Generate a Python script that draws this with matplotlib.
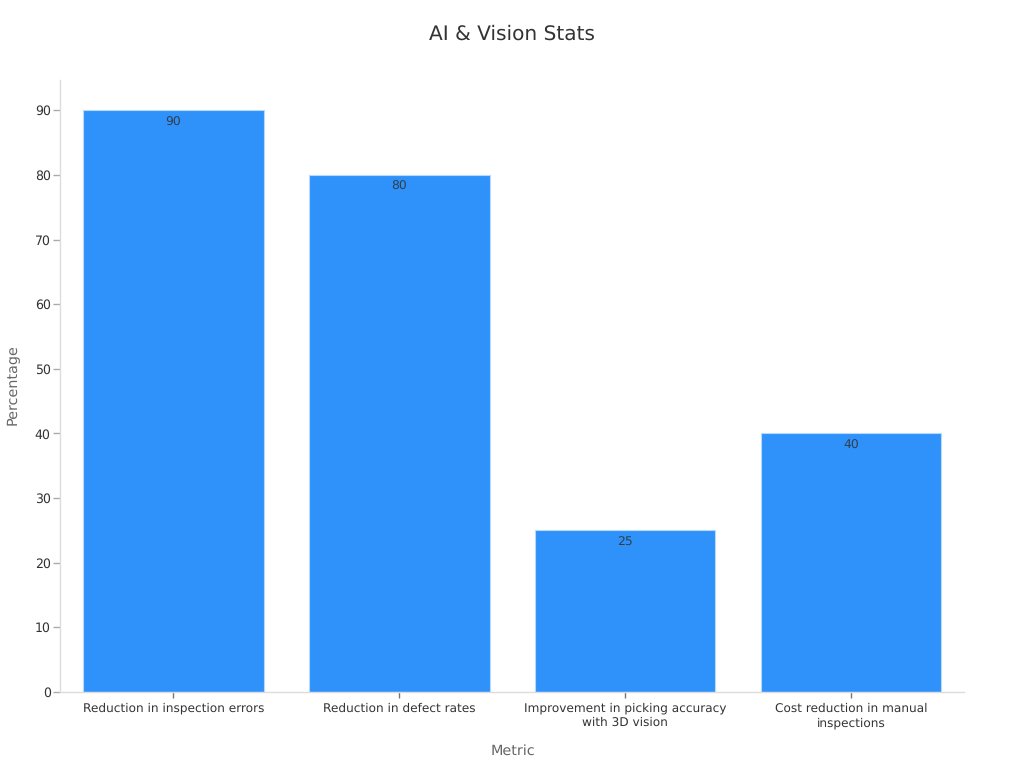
import matplotlib.pyplot as plt

categories = ['Reduction in inspection errors', 'Reduction in defect rates',
              'Improvement in picking accuracy\nwith 3D vision', 'Cost reduction in manual\ninspections']
values = [90, 80, 25, 40]
y_ticks = [0, 10, 20, 30, 40, 50, 60, 70, 80, 90]

plt.rcParams['font.family'] = 'DejaVu Sans'
plt.rcParams['text.hinting'] = 'no_hinting'

fig = plt.figure(figsize=(10.24, 7.68), dpi=100)
ax = fig.add_axes([60.4 / 1024, 1 - 692 / 768, (963.9 - 60.4) / 1024, (692 - 80) / 768])

x = range(len(categories))
ax.bar(x, values, width=0.8, color='#2f92fb', edgecolor='#b5dafc', linewidth=0.8)

# value labels sit just inside the bar top
for i, v in zip(x, values):
    ax.annotate(str(v), (i, v), xytext=(0, -12), textcoords='offset pixels',
                ha='center', va='center', fontsize=8.9, color='#333f4d')

ax.set_xlim(-0.5, 3.5)
ax.set_ylim(0, 94.7)
ax.set_xticks(list(x))
ax.set_xticklabels(categories, fontsize=8.7, color='#333333', linespacing=1.32)
ax.set_yticks(y_ticks)
ax.tick_params(axis='y', labelsize=9, labelcolor='#333333', length=5, width=1, color='#aaaaaa', pad=2)
ax.tick_params(axis='x', length=4.5, width=1, color='#777777', pad=3)

for side in ['top', 'right']:
    ax.spines[side].set_visible(False)
for side in ['left', 'bottom']:
    ax.spines[side].set_color('#dcdcdc')
    ax.spines[side].set_linewidth(1)

fig.text(512 / 1024, 1 - 34 / 768, 'AI & Vision Stats', ha='center', va='center', fontsize=14.5, color='#333333')
fig.text(513 / 1024, 1 - 750.5 / 768, 'Metric', ha='center', va='center', fontsize=10.4, color='#666666')
fig.text(13 / 1024, 1 - 385 / 768, 'Percentage', ha='center', va='center', rotation=90, fontsize=10.4, color='#666666')

fig.savefig('out.png', dpi=100)
